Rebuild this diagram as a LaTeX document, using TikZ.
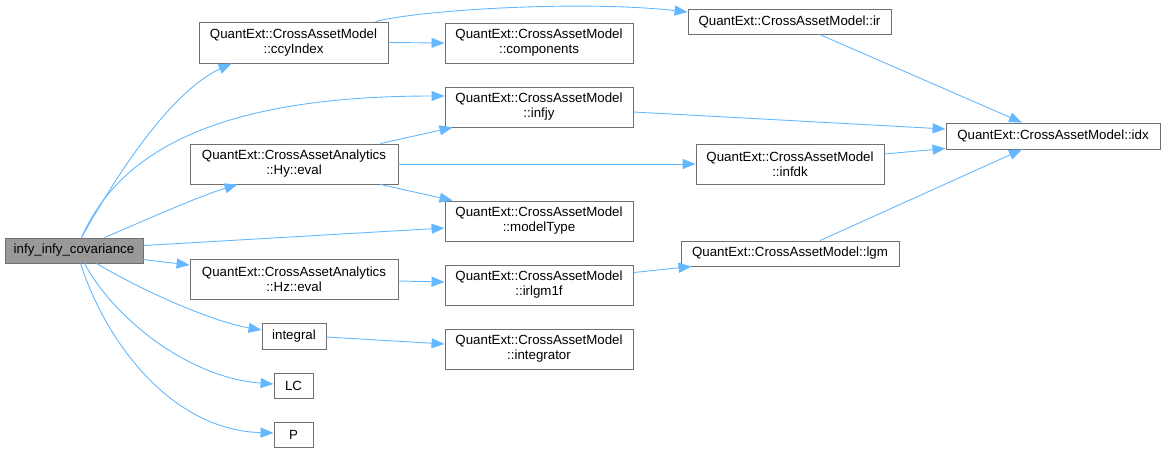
\documentclass[tikz,border=0pt]{standalone}
\usepackage{fontspec}
\setmainfont{Liberation Sans}
\usetikzlibrary{arrows.meta}
\definecolor{edgeblue}{HTML}{63B8FF}
\definecolor{boxline}{HTML}{707070}
\definecolor{rootfill}{HTML}{999999}
\tikzset{
  fnbox/.style={draw=boxline, fill=white, line width=0.9pt, inner sep=0pt, align=center,
    font=\fontsize{13.3}{15}\selectfont, text=black},
  rootbox/.style={fnbox, fill=rootfill},
  edge/.style={draw=edgeblue, line width=0.9pt, -{Triangle[length=13pt,width=10pt]}}
}
\begin{document}
\begin{tikzpicture}[x=1pt,y=-1pt]
\useasboundingbox (0,0) rectangle (1165,453);
% nodes
\node[rootbox, minimum width=138pt, minimum height=25pt] (infy) at (74,250.5) {infy\_infy\_covariance};
\node[fnbox, minimum width=189pt, minimum height=41pt] (ccy) at (293.5,42.5) {QuantExt::CrossAssetModel\\::ccyIndex};
\node[fnbox, minimum width=208pt, minimum height=40pt] (hy) at (294,164) {QuantExt::CrossAssetAnalytics\\::Hy::eval};
\node[fnbox, minimum width=208pt, minimum height=40pt] (hz) at (294,279) {QuantExt::CrossAssetAnalytics\\::Hz::eval};
\node[fnbox, minimum width=64pt, minimum height=26pt] (integral) at (294,336) {integral};
\node[fnbox, minimum width=39pt, minimum height=25pt] (lc) at (293.5,385.5) {LC};
\node[fnbox, minimum width=39pt, minimum height=25pt] (p) at (293.5,434.5) {P};
\node[fnbox, minimum width=188pt, minimum height=40pt] (comp) at (539,43) {QuantExt::CrossAssetModel\\::components};
\node[fnbox, minimum width=188pt, minimum height=40pt] (infjy) at (539,107) {QuantExt::CrossAssetModel\\::infjy};
\node[fnbox, minimum width=188pt, minimum height=40pt] (modeltype) at (539,221) {QuantExt::CrossAssetModel\\::modelType};
\node[fnbox, minimum width=188pt, minimum height=40pt] (irlgm) at (539,285) {QuantExt::CrossAssetModel\\::irlgm1f};
\node[fnbox, minimum width=188pt, minimum height=40pt] (integrator) at (539,349) {QuantExt::CrossAssetModel\\::integrator};
\node[fnbox, minimum width=203pt, minimum height=25pt] (ir) at (789.5,21.5) {QuantExt::CrossAssetModel::ir};
\node[fnbox, minimum width=188pt, minimum height=40pt] (infdk) at (790,164) {QuantExt::CrossAssetModel\\::infdk};
\node[fnbox, minimum width=218pt, minimum height=25pt] (lgm) at (790,253.5) {QuantExt::CrossAssetModel::lgm};
\node[fnbox, minimum width=214pt, minimum height=26pt] (idx) at (1053,136) {QuantExt::CrossAssetModel::idx};
% edges from root
\draw[edge] ([shift={(77,0)}]infy.north west) .. controls (125,160) and (175,90) .. ([shift={(33,0)}]ccy.south west);
\draw[edge] ([shift={(77,0)}]infy.north west) .. controls (120,150) and (220,96) .. ([shift={(0,-11)}]infjy.west);
\draw[edge] ([shift={(100,0)}]infy.north west) .. controls (150,218) and (200,196) .. ([shift={(48,0)}]hy.south west);
\draw[edge] ([shift={(0,8)}]infy.north east) -- ([shift={(0,7)}]modeltype.west);
\draw[edge] ([shift={(0,22)}]infy.north east) -- ([shift={(0,-14)}]hz.west);
\draw[edge] ([shift={(92,0)}]infy.south west) .. controls (150,295) and (215,322) .. ([shift={(0,-6)}]integral.west);
\draw[edge] ([shift={(80,0)}]infy.south west) .. controls (115,320) and (190,378) .. ([shift={(0,-1.5)}]lc.west);
\draw[edge] ([shift={(76,0)}]infy.south west) .. controls (105,340) and (170,430) .. ([shift={(0,-1.5)}]p.west);
% other edges
\draw[edge] (ccy.east) -- (comp.west);
\draw[edge] ([shift={(-13,0)}]ccy.north east) .. controls (420,10) and (580,0) .. ([shift={(0,-9.5)}]ir.west);
\draw[edge] ([shift={(-18,0)}]hy.north east) -- ([shift={(8,0)}]infjy.south west);
\draw[edge] ([shift={(-18,0)}]hy.south east) -- ([shift={(8,0)}]modeltype.north west);
\draw[edge] (hy.east) -- (infdk.west);
\draw[edge] ([shift={(0,5)}]infjy.east) -- ([shift={(0,-7)}]idx.west);
\draw[edge] ([shift={(0,-10)}]infdk.east) -- ([shift={(0,-1)}]idx.south west);
\draw[edge] ([shift={(30,0)}]ir.south) -- ([shift={(-31,0)}]idx.north);
\draw[edge] ([shift={(30,0)}]lgm.north) -- ([shift={(-31,0)}]idx.south);
\draw[edge] ([shift={(0,2)}]hz.east) -- ([shift={(0,-3)}]irlgm.west);
\draw[edge] ([shift={(0,8)}]irlgm.north east) -- ([shift={(11,0)}]lgm.south west);
\draw[edge] ([shift={(0,1)}]integral.east) -- ([shift={(0,-5)}]integrator.west);
\end{tikzpicture}
\end{document}
